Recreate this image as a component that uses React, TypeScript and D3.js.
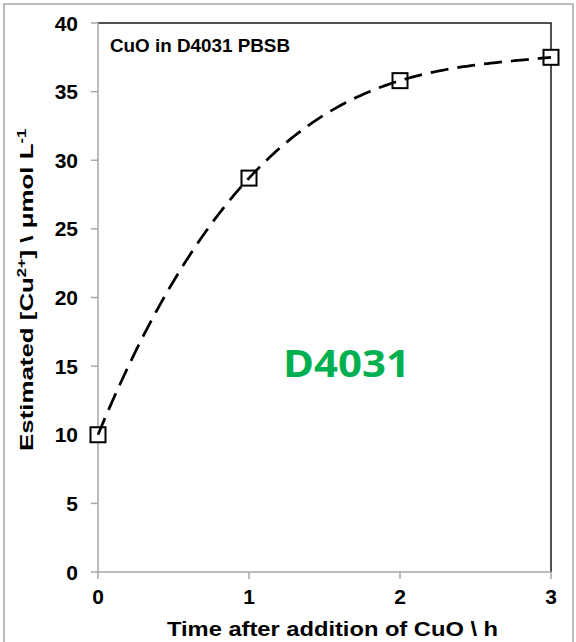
import React from 'react';
import * as d3 from 'd3';

// ---- data ----
const hours: number[] = [0, 1, 2, 3];
const cuConc: number[] = [10, 28.7, 35.8, 37.5];
const xTickValues: number[] = [0, 1, 2, 3];
const yTickValues: number[] = [0, 5, 10, 15, 20, 25, 30, 35, 40];
const titleText = 'CuO in D4031 PBSB';
const annotationText = 'D4031';
const xLabelText = 'Time after addition of CuO \\ h';

const W = 576;
const H = 642;
const plot = { left: 98, right: 551, top: 23, bottom: 572 };

// least-squares polynomial trendline (order 3), as in the original chart
function polyFit(xs: number[], ys: number[], order: number): number[] {
  const n = order + 1;
  const A: number[][] = [];
  for (let r = 0; r < n; r++) {
    const row: number[] = [];
    for (let c = 0; c < n; c++) {
      row.push(d3.sum(xs, (x) => Math.pow(x, r + c)));
    }
    row.push(d3.sum(xs.map((x, i) => Math.pow(x, r) * ys[i])));
    A.push(row);
  }
  for (let i = 0; i < n; i++) {
    let p = i;
    for (let k = i + 1; k < n; k++) if (Math.abs(A[k][i]) > Math.abs(A[p][i])) p = k;
    [A[i], A[p]] = [A[p], A[i]];
    for (let k = i + 1; k < n; k++) {
      const f = A[k][i] / A[i][i];
      for (let j = i; j <= n; j++) A[k][j] -= f * A[i][j];
    }
  }
  const coef = new Array(n).fill(0);
  for (let i = n - 1; i >= 0; i--) {
    let s = A[i][n];
    for (let j = i + 1; j < n; j++) s -= A[i][j] * coef[j];
    coef[i] = s / A[i][i];
  }
  return coef;
}

export default function App() {
  const x = d3.scaleLinear().domain([0, 3]).range([plot.left, plot.right]);
  const y = d3.scaleLinear().domain([0, 40]).range([plot.bottom, plot.top]);

  const coef = polyFit(hours, cuConc, 3);
  const evalPoly = (t: number) => coef.reduce((s, c, i) => s + c * Math.pow(t, i), 0);
  const [t0, t1] = d3.extent(hours) as [number, number];
  const samples = d3.range(0, 151).map((i) => t0 + ((t1 - t0) * i) / 150);
  const line = d3
    .line<number>()
    .x((t) => x(t))
    .y((t) => y(evalPoly(t)));

  const axisGray = '#a6a6a6';
  const font = '"Liberation Sans", Arial, sans-serif';
  const ms = 15;

  return (
    <svg
      width={W}
      height={H}
      style={{ position: 'absolute', left: 0, top: 0, background: '#fff' }}
      fontFamily={font}
    >
      <rect x={0} y={0} width={W} height={H} fill="#fff" />
      {/* outer frame */}
      <path d={`M4,${H + 5} V4 H573 V${H + 5}`} fill="none" stroke={axisGray} strokeWidth={1.5} />

      {/* top/right plot border */}
      <path
        d={`M${plot.left},${plot.top} H${plot.right} V${plot.bottom}`}
        fill="none"
        stroke="#1a1a1a"
        strokeWidth={1.5}
      />
      {/* axes */}
      <line x1={plot.left} x2={plot.left} y1={plot.top} y2={plot.bottom} stroke={axisGray} strokeWidth={1.5} />
      <line x1={plot.left} x2={plot.right} y1={plot.bottom} y2={plot.bottom} stroke={axisGray} strokeWidth={1.5} />

      {yTickValues.map((v) => (
        <g key={'y' + v}>
          <line x1={plot.left - 7} x2={plot.left} y1={y(v)} y2={y(v)} stroke={axisGray} strokeWidth={1.5} />
          <text
            x={78}
            y={y(v)}
            dy="0.36em"
            textAnchor="end"
            fontSize={21}
            fontWeight="bold"
            fill="#000"
          >
            {v}
          </text>
        </g>
      ))}
      {xTickValues.map((v) => (
        <g key={'x' + v}>
          <line x1={x(v)} x2={x(v)} y1={plot.bottom} y2={plot.bottom + 7} stroke={axisGray} strokeWidth={1.5} />
          <text x={x(v)} y={604} textAnchor="middle" fontSize={21} fontWeight="bold" fill="#000">
            {v}
          </text>
        </g>
      ))}

      {/* markers */}
      {hours.map((h, i) => (
        <rect
          key={'m' + i}
          x={x(h) - ms / 2}
          y={y(cuConc[i]) - ms / 2}
          width={ms}
          height={ms}
          fill="#fff"
          stroke="#000"
          strokeWidth={2}
        />
      ))}
      {/* polynomial trendline */}
      <path
        d={line(samples) || ''}
        fill="none"
        stroke="#000"
        strokeWidth={2.75}
        strokeDasharray="18,9"
      />

      {/* title */}
      <text x={110} y={52} fontSize={19} fontWeight="bold" textLength={180} lengthAdjust="spacingAndGlyphs">
        {titleText}
      </text>
      {/* annotation */}
      <text
        x={283}
        y={377}
        fontSize={38}
        fontWeight="bold"
        fontFamily='"Open Sans", Lato, sans-serif'
        fill="#00b050"
        textLength={127}
        lengthAdjust="spacingAndGlyphs"
      >
        {annotationText}
      </text>

      {/* x label */}
      <text x={167} y={636} fontSize={20} fontWeight="bold" textLength={331} lengthAdjust="spacingAndGlyphs">
        {xLabelText}
      </text>
      {/* y label */}
      <text
        transform={`translate(33,290) rotate(-90)`}
        textAnchor="middle"
        fontSize={19}
        fontWeight="bold"
        textLength={322}
        lengthAdjust="spacingAndGlyphs"
      >
        Estimated [Cu
        <tspan dy={-7} fontSize={12}>2+</tspan>
        <tspan dy={7}>] \ μmol L</tspan>
        <tspan dy={-7} fontSize={12}>-1</tspan>
      </text>
    </svg>
  );
}
